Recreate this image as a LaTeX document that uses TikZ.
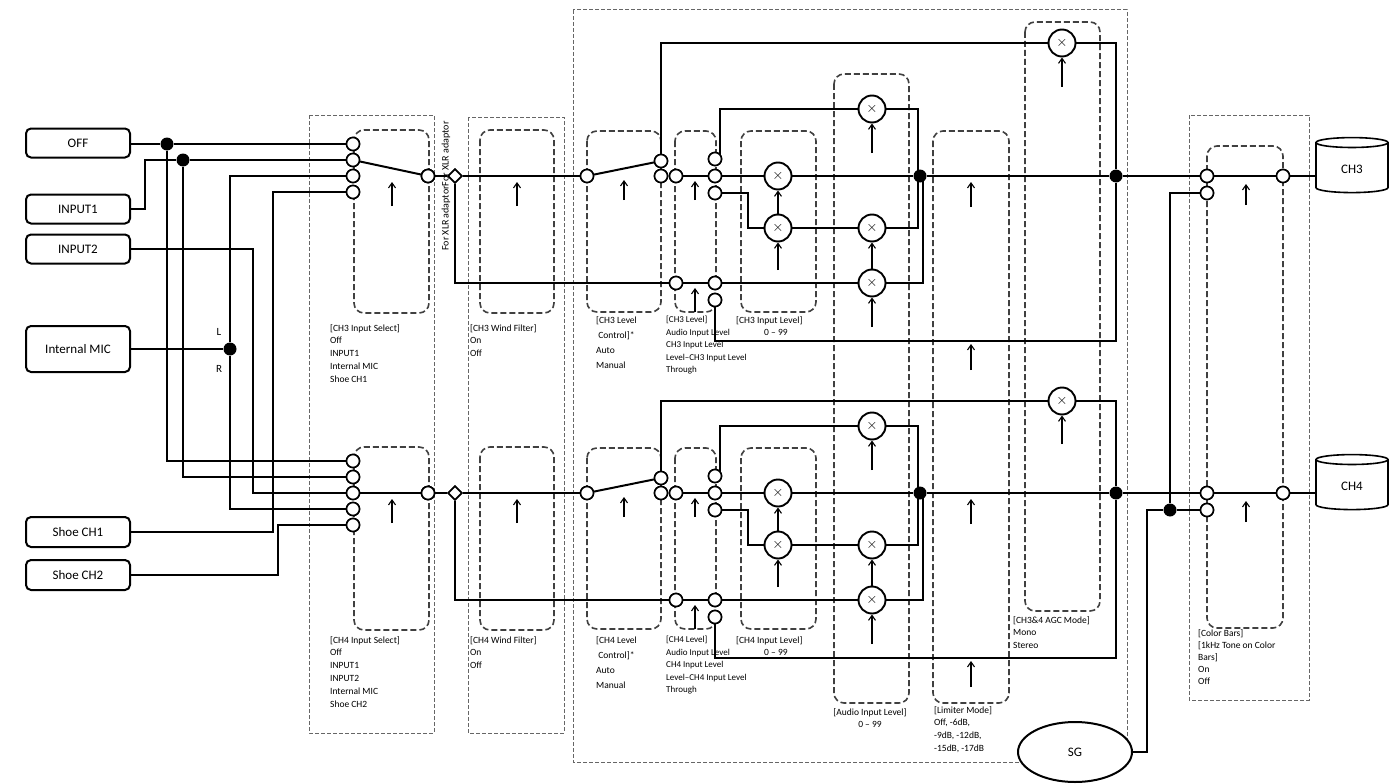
\documentclass[tikz,border=0pt]{standalone}
\usepackage{fontspec}
\setmainfont{Carlito}
\usetikzlibrary{shapes.geometric,arrows.meta}
\begin{document}
\begin{tikzpicture}[x=1pt,y=-1pt,
 wire/.style={line width=2pt},
 term/.style={circle,draw,fill=white,line width=1.6pt,inner sep=0pt,minimum size=13pt},
 mult/.style={circle,draw,fill=white,line width=1.9pt,inner sep=0pt,minimum size=27pt,font=\Large},
 jdot/.style={circle,fill,inner sep=0pt,minimum size=13pt},
 dia/.style={diamond,draw,fill=white,line width=1.6pt,inner sep=0pt,minimum size=14pt},
 src/.style={draw,rounded corners=5pt,line width=2pt,minimum width=104pt,font=\fontsize{13}{15}\selectfont},
 arr/.style={-{Straight Barb[length=5pt,width=7pt]},line width=1.1pt},
 inbox/.style={draw=black!75,dash pattern=on 6pt off 3pt,line width=1.6pt,rounded corners=10pt},
 outbox/.style={draw=black!60,dash pattern=on 4pt off 2pt,line width=1pt},
 lbl/.style={anchor=north west,align=left,inner sep=0pt,font=\fontsize{9.5}{12.8}\selectfont},
 cyl/.style={cylinder,shape border rotate=90,draw,line width=1.6pt,minimum width=72pt,minimum height=55pt,aspect=0.35,font=\fontsize{13}{15}\selectfont}]
\useasboundingbox (0,0) rectangle (1398,784);
% outer boxes
\draw[outbox] (309,115) rectangle (434,733);
\draw[outbox] (468,117) rectangle (564,733);
\draw[outbox] (573,10) rectangle (1127,762);
\draw[outbox] (1189,115) rectangle (1309,700);
% shared inner boxes
\draw[inbox] (834,74) rectangle (909,703);
\draw[inbox] (933,131) rectangle (1009,703);
\draw[inbox] (1025,22) rectangle (1100,611);
\draw[inbox] (1207,146) rectangle (1283,628);
\foreach \o in {0,317}{
 \draw[inbox] (354,130+\o) rectangle (429,313+\o);
 \draw[inbox] (480,130+\o) rectangle (554,313+\o);
 \draw[inbox] (587,131+\o) rectangle (661,312+\o);
 \draw[inbox] (675,131+\o) rectangle (716,312+\o);
 \draw[inbox] (741,131+\o) rectangle (816,312+\o);
}
% sources
\node[src,minimum height=29pt] (off) at (78,143) {OFF};
\node[src,minimum height=29pt] (in1) at (78,209) {INPUT1};
\node[src,minimum height=29pt] (in2) at (78,249) {INPUT2};
\node[src,minimum height=46pt] (mic) at (78,349) {Internal MIC};
\node[src,minimum height=30pt] (sh1) at (78,532) {Shoe CH1};
\node[src,minimum height=30pt] (sh2) at (78,575) {Shoe CH2};
% input terminals
\foreach \n/\y in {a/144,b/160,c/176,d/192} \node[term] (s3\n) at (353,\y) {};
\foreach \n/\y in {a/461,b/477,c/493,d/509,e/525} \node[term] (s4\n) at (353,\y) {};
\node[jdot] (j1) at (167,144) {};
\node[jdot] (j2) at (183,160) {};
\node[jdot] (jm) at (230,349) {};
\node[font=\fontsize{11}{12}\selectfont] (lL) at (219,332) {L};
\node[font=\fontsize{11}{12}\selectfont] (lR) at (219,369) {R};
\draw[wire] (off.east |- j1) -- (j1) -- (s3a);
\draw[wire] (j1) |- (s4a);
\draw[wire] (in1.east) -| (145,160) -- (j2) -- (s3b);
\draw[wire] (j2) |- (s4b);
\draw[wire] (mic.east) -- (jm);
\draw[wire] (jm) |- (s3c);
\draw[wire] (jm) |- (s4d);
\draw[wire] (in2.east |- 0,249) -| (253,493) -- (s4c);
\draw[wire] (sh1.east) -| (273,192) -- (s3d);
\draw[wire] (sh2.east) -| (278,525) -- (s4e);
\foreach \s in {s3a,s3b,s3c,s3d,s4a,s4b,s4c,s4d,s4e} \node[term] at (\s) {};
% channels
\foreach \c/\o/\ag in {3/0/43,4/317/84}{
 \begin{scope}[yshift=-\o pt]
 \node[term] (out\c) at (428,176) {};
 \node[dia] (d\c) at (455,176) {};
 \node[term] (lci\c) at (587,176) {};
 \node[term] (lca\c) at (661,161) {};
 \node[term] (lcb\c) at (661,176) {};
 \node[term] (lvi\c) at (676,176) {};
 \node[term] (lvb\c) at (676,283) {};
 \node[term] (lt\c) at (715,159) {};
 \node[term] (lm\c) at (715,176) {};
 \node[term] (lb\c) at (715,193) {};
 \node[term] (lbt\c) at (715,283) {};
 \node[term] (lbb\c) at (715,300) {};
 \node[mult] (m1\c) at (872,109) {$\times$};
 \node[mult] (m2\c) at (778,176) {$\times$};
 \node[mult] (m3\c) at (778,228) {$\times$};
 \node[mult] (m4\c) at (872,228) {$\times$};
 \node[mult] (m5\c) at (872,283) {$\times$};
 \node[mult] (ma\c) at (1062,\ag) {$\times$};
 \node[jdot] (su\c) at (920,176) {};
 \node[jdot] (sv\c) at (1116,176) {};
 \node[term] (cba\c) at (1207,176) {};
 \node[term] (cbo\c) at (1283,176) {};
 \node[cyl] (ch\c) at (1352,169) {CH\c};
 \draw[wire] (out\c) -- (d\c) -- (lci\c);
 \draw[wire] (lci\c) -- (lca\c);
 \draw[wire] (d\c) |- (lvb\c);
 \draw[wire] (lvb\c) -- (lbt\c) -- (m5\c) -- (923,283) -- (923,176);
 \draw[wire] (lca\c) |- (ma\c) -| (sv\c);
 \draw[wire] (lvi\c) -- (lm\c) -- (m2\c) -- (su\c);
 \draw[wire] (lt\c) -| (720,109) -- (m1\c) -| (918,176);
 \draw[wire] (lb\c) -| (748,228) -- (m3\c) -- (m4\c) -| (918,176);
 \draw[wire] (lbb\c) |- (1116,341) -- (sv\c);
 \draw[wire] (su\c) -- (sv\c) -- (cba\c);
 \draw[wire] (cba\c) -- (cbo\c) -- (ch\c.west |- cbo\c);
 \foreach \s in {out\c,lci\c,lca\c,lcb\c,lvi\c,lvb\c,lt\c,lm\c,lb\c,lbt\c,lbb\c,cba\c,cbo\c} \node[term] at (\s) {};
 \node[dia] at (d\c) {};
 \draw[arr] (m3\c) -- (m2\c);
 \draw[arr] (m5\c) -- (m4\c);
 \draw[arr] (778,270) -- (m3\c);
 \draw[arr] (872,153) -- (m1\c);
 \draw[arr] (872,327) -- (m5\c);
 \draw[arr] (392,206) -- (392,182);
 \draw[arr] (517,206) -- (517,182);
 \draw[arr] (624,200) -- (624,180);
 \draw[arr] (695,200) -- (695,181);
 \draw[arr] (695,312) -- (695,288);
 \draw[arr] (971,207) -- (971,182);
 \draw[arr] (971,370) -- (971,344);
 \draw[arr] (1246,205) -- (1246,184);
 \end{scope}
}
\draw[wire] (s3b) -- (out3);
\draw[wire] (s4c) -- (out4);
\node[term] at (out3) {}; \node[term] at (out4) {};
\draw[arr] (1062,87) -- (ma3);
\draw[arr] (1062,444) -- (ma4);
\node[rotate=90,inner sep=0pt,font=\fontsize{10}{11}\selectfont] (xlr) at (446,186) {For XLR adaptorFor XLR adaptor};
% color bars second inputs
\node[term] (cbb3) at (1207,193) {};
\node[term] (cbb4) at (1207,510) {};
\node[jdot] (jc) at (1170,510) {};
\node[ellipse,draw,line width=2pt,minimum width=114pt,minimum height=60pt,font=\fontsize{13}{15}\selectfont,fill=white] (sg) at (1075,752) {SG};
\draw[wire] (sg.east) -| (1147,510) -- (jc) -- (cbb4);
\draw[wire] (jc) |- (cbb3);
\node[term] at (cbb3) {}; \node[term] at (cbb4) {};
% labels
\node[lbl] (t1) at (330,324) {[CH3 Input Select]\\Off\\INPUT1\\Internal MIC\\Shoe CH1};
\node[lbl] (t2) at (330,636) {[CH4 Input Select]\\Off\\INPUT1\\INPUT2\\Internal MIC\\Shoe CH2};
\node[lbl] (t3) at (470,324) {[CH3 Wind Filter]\\On\\Off};
\node[lbl] (t4) at (470,636) {[CH4 Wind Filter]\\On\\Off};
\node[lbl,font=\fontsize{9.5}{15}\selectfont] (t5) at (596,316) {[CH3 Level\\\ Control]*\\Auto\\Manual};
\node[lbl,font=\fontsize{9.5}{15}\selectfont] (t6) at (596,636) {[CH4 Level\\\ Control]*\\Auto\\Manual};
\node[lbl,font=\fontsize{9}{12.5}\selectfont] (t7) at (666,316) {[CH3 Level]\\Audio Input Level\\CH3 Input Level\\Level–CH3 Input Level\\Through};
\node[lbl,font=\fontsize{9}{12.5}\selectfont] (t8) at (666,636) {[CH4 Level]\\Audio Input Level\\CH4 Input Level\\Level–CH4 Input Level\\Through};
\node[lbl] (t9) at (736,316) {[CH3 Input Level]\\\hspace*{28pt}0 – 99};
\node[lbl] (t10) at (736,636) {[CH4 Input Level]\\\hspace*{28pt}0 – 99};
\node[lbl,align=center,anchor=north] (t11) at (870,708) {[Audio Input Level]\\0 – 99};
\node[lbl] (t12) at (934,706) {[Limiter Mode]\\Off, -6dB,\\-9dB, -12dB,\\-15dB, -17dB};
\node[lbl] (t13) at (1013,616) {[CH3\&4 AGC Mode]\\Mono\\Stereo};
\node[lbl,font=\fontsize{9.5}{12}\selectfont] (t14) at (1198,629) {[Color Bars]\\{}[1kHz Tone on Color\\Bars]\\On\\Off};
\end{tikzpicture}
\end{document}
